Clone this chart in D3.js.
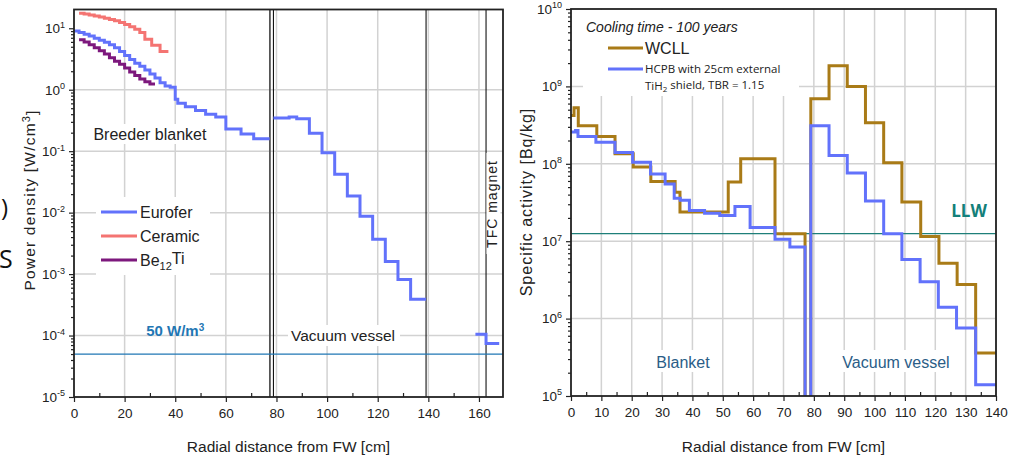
<!DOCTYPE html>
<html>
<head>
<style>
body { margin: 0; background: #fff; }
svg { display: block; font-family: "Liberation Sans", Arial, sans-serif; }
</style>
<script src="https://d3js.org/d3.v7.min.js"></script>
</head>
<body>
<script>
// ---- left panel: power density [W/cm3] vs radial distance [cm] ----
var eurBlanketEdges = [0,2,4,6,8,10,12,14,16,18,20,22,24,26,28,30,32,34,36,38,40,41,44,48,52,56,60,66,71,77.3];
var eurBlanketVals  = [9.0,8.5,8.0,7.5,6.9,6.4,5.9,5.4,4.8,4.2,3.6,3.1,2.7,2.4,2.1,1.8,1.55,1.3,1.15,1.1,0.7,0.6,0.53,0.46,0.40,0.36,0.23,0.19,0.16];
var eurVVEdges = [78.8,85,88,93,98,103,108,113,118,123,128,133,139.1];
var eurVVVals  = [0.346,0.36,0.337,0.195,0.094,0.042,0.0186,0.0087,0.0037,0.0016,0.00082,0.00039];
var eurMagEdges = [158.6,162.8,168];
var eurMagVals  = [1.05e-4,7.4e-5];
var ceramicEdges = [2,4,6,8,10,12,14,16,18,20,22,24,26,28,30.7,34,37.3];
var ceramicVals  = [17.5,17.0,16.5,15.9,15.3,14.6,13.9,13.2,12.4,11.5,10.6,9.6,8.5,6.6,5.3,4.2];
var beTiEdges = [2,4,6,8,10,12,14,16,18,20,22,24,26,28,30,32];
var beTiVals  = [6.5,6.0,5.4,4.8,4.3,3.8,3.3,2.9,2.6,2.25,1.95,1.7,1.5,1.35,1.24];
var limitPower = 5e-5;               // 50 W/m3
var zoneLines = [77.4, 78.8, 139.1, 162.8];
var leftXTicks = [0,20,40,60,80,100,120,140,160];
var leftYTicks = [1e-5,1e-4,1e-3,1e-2,1e-1,1,10];

// ---- right panel: specific activity [Bq/kg], cooling 100 years ----
var gapFloor = 1e3;                  // lines drop to the axis in the gap
var wcllEdges = [0,1,2.4,8.5,14.5,20.5,26.3,34.3,35.9,51.8,55.9,67.2,77.1,79,85,91,97,103,109,115.2,121.2,127.2,133.3,140];
var wcllVals  = [4.2e8,5.3e8,3.1e8,2.26e8,1.35e8,9.06e7,5.9e7,4.3e7,2.38e7,5.8e7,1.16e8,1.25e7,gapFloor,6.9e8,1.85e9,1.0e9,3.4e8,1.03e8,3.2e7,1.15e7,5.2e6,2.76e6,3.6e5];
var hcpbEdges = [0,1.5,2.3,8.2,14.5,20.3,26.2,31,34,36,39,44,49,54,59,67.2,72.1,77.1,79,85,91,97,103,109,115,121,127,133.3,140];
var hcpbVals  = [2.57e8,2.7e8,2.26e8,1.9e8,1.4e8,1.05e8,7.4e7,5.5e7,3.6e7,3.37e7,2.5e7,2.3e7,2.15e7,2.8e7,1.5e7,1.06e7,8.4e6,gapFloor,3.1e8,1.28e8,7.6e7,3.3e7,1.25e7,5.8e6,3.0e6,1.4e6,7.55e5,1.4e5];
var llwLimit = 1.25e7;
var rightXTicks = [0,10,20,30,40,50,60,70,80,90,100,110,120,130,140];
var rightYTicks = [1e5,1e6,1e7,1e8,1e9,1e10];

var blue = "#6272fb", salmon = "#f47472", purple = "#7d187d", gold = "#a97b17";

var svg = d3.select("body").append("svg").attr("width", 1014).attr("height", 458);

function stepPoints(edges, vals) {
  var pts = vals.map(function(v, i) { return [edges[i], v]; });
  pts.push([edges[edges.length - 1], vals[vals.length - 1]]);
  return pts;
}

function minorLogs(decades) {
  var out = [];
  for (var i = 0; i < decades.length - 1; i++)
    for (var k = 2; k < 10; k++) out.push(decades[i] * k);
  return out;
}

function powLabels(sel) {
  sel.selectAll(".tick text").each(function(d) {
    var t = d3.select(this), e = Math.round(Math.log10(d));
    t.text(null);
    t.append("tspan").text("10");
    t.append("tspan").attr("dy", "-0.6em").attr("font-size", "9px").text(e);
  });
}

function panel(opt) {
  var g = svg.append("g");
  var x = opt.x, y = opt.y;
  var x0 = x.range()[0], x1 = x.range()[1], y0 = y.range()[0], y1 = y.range()[1];
  var clipId = opt.id + "-clip";
  svg.append("clipPath").attr("id", clipId).append("rect")
    .attr("x", x0).attr("y", y1).attr("width", x1 - x0).attr("height", y0 - y1);

  // grid
  g.append("g").selectAll("line").data(opt.xTicks.slice(1)).enter().append("line")
    .attr("x1", function(d) { return x(d); }).attr("x2", function(d) { return x(d); })
    .attr("y1", y0).attr("y2", y1).attr("stroke", "#d2d2d2").attr("stroke-width", 1.5);
  g.append("g").selectAll("line").data(opt.yTicks.slice(1, -1)).enter().append("line")
    .attr("y1", function(d) { return y(d); }).attr("y2", function(d) { return y(d); })
    .attr("x1", x0).attr("x2", x1).attr("stroke", "#d2d2d2").attr("stroke-width", 1.5);

  // axes
  g.append("g").attr("transform", "translate(0," + y0 + ")")
    .call(d3.axisBottom(x).tickValues(opt.xTicks).tickSizeOuter(0).tickSize(5).tickPadding(6));
  g.append("g").attr("transform", "translate(0," + y0 + ")")
    .call(d3.axisBottom(x).tickValues(opt.xMinor).tickFormat("").tickSizeOuter(0).tickSize(-4));
  var ay = g.append("g").attr("transform", "translate(" + x0 + ",0)")
    .call(d3.axisLeft(y).tickValues(opt.yTicks).tickSizeOuter(0).tickSize(5).tickPadding(4));
  g.append("g").attr("transform", "translate(" + x0 + ",0)")
    .call(d3.axisLeft(y).tickValues(minorLogs(opt.yTicks)).tickFormat("").tickSizeOuter(0).tickSize(3));
  powLabels(ay);
  g.selectAll(".domain").remove();
  g.selectAll(".tick line").attr("stroke", "#222").attr("stroke-width", 1.2);
  g.selectAll(".tick text").attr("font-size", "13.5px").attr("fill", "#222")
    .attr("font-family", "Liberation Sans, Arial, sans-serif");

  var plot = g.append("g").attr("clip-path", "url(#" + clipId + ")");
  g.append("rect").attr("x", x0).attr("y", y1).attr("width", x1 - x0).attr("height", y0 - y1)
    .attr("fill", "none").attr("stroke", "#222").attr("stroke-width", 1.8);

  // axis title
  g.append("text").attr("x", (x0 + x1) / 2).attr("y", 452).attr("text-anchor", "middle")
    .attr("font-size", "15.5px").attr("fill", "#222").text("Radial distance from FW [cm]");
  return { g: g, plot: plot, x: x, y: y };
}

var line = function(p) {
  return d3.line().curve(d3.curveStepAfter)
    .x(function(d) { return p.x(d[0]); }).y(function(d) { return p.y(d[1]); });
};

function whiteBox(g, x, y, w, h) {
  g.append("rect").attr("x", x).attr("y", y).attr("width", w).attr("height", h).attr("fill", "#fff");
}

// ================= LEFT PANEL =================
var L = panel({
  id: "left",
  x: d3.scaleLinear().domain([0, 169.5]).range([74, 503]),
  y: d3.scaleLog().domain([1e-5, 20.2]).range([397, 9.5]),
  xTicks: leftXTicks, xMinor: [10,30,50,70,90,110,130,150],
  yTicks: leftYTicks
});

// white label backgrounds and zone labels
whiteBox(L.plot, 92, 124, 120, 20);
L.plot.append("text").attr("x", L.x(30)).attr("y", 140).attr("text-anchor", "middle")
  .attr("font-size", "16px").attr("fill", "#222").text("Breeder blanket");
whiteBox(L.plot, 288, 325, 112, 21);
L.plot.append("text").attr("x", 343).attr("y", 341).attr("text-anchor", "middle")
  .attr("font-size", "15.5px").attr("fill", "#222").text("Vacuum vessel");

// zone boundaries
L.plot.selectAll(".zone").data(zoneLines).enter().append("line")
  .attr("x1", function(d) { return L.x(d); }).attr("x2", function(d) { return L.x(d); })
  .attr("y1", 9.5).attr("y2", 397)
  .attr("stroke", function(d, i) { return i === 0 ? "#555" : "#111"; })
  .attr("stroke-width", function(d, i) { return i === 0 ? 1.8 : 1.1; });

// 50 W/m3 limit
L.plot.append("line").attr("x1", 74).attr("x2", 503)
  .attr("y1", L.y(limitPower)).attr("y2", L.y(limitPower))
  .attr("stroke", "#1f77b4").attr("stroke-width", 1.2);
var lt = L.plot.append("text").attr("x", L.x(40)).attr("y", 336).attr("text-anchor", "middle")
  .attr("font-size", "15px").attr("font-weight", "bold").attr("fill", "#1f77b4");
lt.append("tspan").text("50 W/m");
lt.append("tspan").attr("dy", "-0.55em").attr("font-size", "10px").text("3");

// series
[[eurBlanketEdges, eurBlanketVals, blue], [eurVVEdges, eurVVVals, blue], [eurMagEdges, eurMagVals, blue],
 [ceramicEdges, ceramicVals, salmon], [beTiEdges, beTiVals, purple]].forEach(function(s) {
  L.plot.append("path").datum(stepPoints(s[0], s[1])).attr("d", line(L))
    .attr("fill", "none").attr("stroke", s[2]).attr("stroke-width", 3);
});

// TFC magnet label
whiteBox(L.g, 486.5, 153, 14, 101);
L.g.append("text").attr("transform", "translate(497,204) rotate(-90)").attr("text-anchor", "middle")
  .attr("font-size", "14px").attr("letter-spacing", "1px").attr("fill", "#222").text("TFC magnet");

// legend
whiteBox(L.g, 96, 197, 114, 78);
var leftLegend = [["Eurofer", blue], ["Ceramic", salmon], ["Be12Ti", purple]];
leftLegend.forEach(function(d, i) {
  var yy = 212 + i * 24;
  L.g.append("line").attr("x1", 101).attr("x2", 137).attr("y1", yy).attr("y2", yy)
    .attr("stroke", d[1]).attr("stroke-width", 3);
  var t = L.g.append("text").attr("x", 140).attr("y", yy + 6).attr("font-size", "16px").attr("fill", "#222");
  if (d[0] === "Be12Ti") {
    t.append("tspan").text("Be");
    t.append("tspan").attr("dy", "0.35em").attr("font-size", "11px").text("12");
    t.append("tspan").attr("dy", "-0.35em").text("Ti");
  } else t.text(d[0]);
});

// y title
L.g.append("text").attr("transform", "translate(35,200) rotate(-90)").attr("text-anchor", "middle")
  .attr("font-size", "15.5px").attr("letter-spacing", "1.2px").attr("fill", "#222")
  .call(function(t) {
    t.append("tspan").text("Power density [W/cm");
    t.append("tspan").attr("dy", "-0.5em").attr("font-size", "11px").text("3");
    t.append("tspan").attr("dy", "0.5em").text("]");
  });

// cut-off characters at the left edge of the original figure
svg.append("text").attr("x", 1).attr("y", 216).attr("font-family", "Open Sans, sans-serif")
  .attr("font-size", "24px").attr("fill", "#111").text(")");
svg.append("text").attr("x", -1).attr("y", 268).attr("font-family", "Open Sans, sans-serif")
  .attr("font-size", "25px").attr("fill", "#111").text("S");

// ================= RIGHT PANEL =================
var R = panel({
  id: "right",
  x: d3.scaleLinear().domain([0, 140]).range([571, 996]),
  y: d3.scaleLog().domain([1e5, 1e10]).range([396, 9]),
  xTicks: rightXTicks, xMinor: [5,15,25,35,45,55,65,75,85,95,105,115,125,135],
  yTicks: rightYTicks
});

whiteBox(R.plot, 654, 350, 58, 22);
R.plot.append("text").attr("x", 683).attr("y", 368).attr("text-anchor", "middle")
  .attr("font-size", "16px").attr("fill", "#2a5d87").text("Blanket");
whiteBox(R.plot, 840, 350, 112, 22);
R.plot.append("text").attr("x", 896).attr("y", 368).attr("text-anchor", "middle")
  .attr("font-size", "16px").attr("fill", "#2a5d87").text("Vacuum vessel");

// legend background
whiteBox(R.plot, 583, 10, 216, 86);

// LLW limit
R.plot.append("line").attr("x1", 571).attr("x2", 996)
  .attr("y1", R.y(llwLimit)).attr("y2", R.y(llwLimit))
  .attr("stroke", "#1e7f79").attr("stroke-width", 1.2);
R.plot.append("text").attr("x", 969).attr("y", 217).attr("text-anchor", "middle")
  .attr("font-family", "Open Sans, sans-serif").attr("font-weight", "bold")
  .attr("font-size", "17px").attr("fill", "#13807a").text("LLW");

[[wcllEdges, wcllVals, gold], [hcpbEdges, hcpbVals, blue]].forEach(function(s) {
  R.plot.append("path").datum(stepPoints(s[0], s[1])).attr("d", line(R))
    .attr("fill", "none").attr("stroke", s[2]).attr("stroke-width", 3);
});

// legend
R.g.append("text").attr("x", 586).attr("y", 32).attr("font-size", "14px").attr("font-style", "italic")
  .attr("fill", "#222").text("Cooling time - 100 years");
R.g.append("line").attr("x1", 608).attr("x2", 643).attr("y1", 48).attr("y2", 48)
  .attr("stroke", gold).attr("stroke-width", 3);
R.g.append("text").attr("x", 645).attr("y", 54).attr("font-size", "16px").attr("fill", "#222").text("WCLL");
R.g.append("line").attr("x1", 608).attr("x2", 643).attr("y1", 69).attr("y2", 69)
  .attr("stroke", blue).attr("stroke-width", 3);
R.g.append("text").attr("x", 645).attr("y", 73).attr("font-family", "Open Sans, sans-serif")
  .attr("font-size", "11.5px").attr("fill", "#222").text("HCPB with 25cm external");
R.g.append("text").attr("x", 645).attr("y", 90).attr("font-family", "Open Sans, sans-serif")
  .attr("font-size", "11.5px").attr("fill", "#222")
  .call(function(t) {
    t.append("tspan").text("TiH");
    t.append("tspan").attr("dy", "0.3em").attr("font-size", "8px").text("2");
    t.append("tspan").attr("dy", "-0.3em").text(" shield, TBR = 1.15");
  });

R.g.append("text").attr("transform", "translate(532,202) rotate(-90)").attr("text-anchor", "middle")
  .attr("font-size", "16px").attr("letter-spacing", "1px").attr("fill", "#222")
  .text("Specific activity [Bq/kg]");
</script>
</body>
</html>
